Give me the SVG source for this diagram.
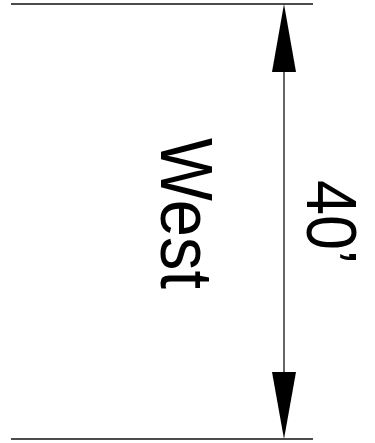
<svg xmlns="http://www.w3.org/2000/svg" width="375" height="443" viewBox="0 0 375 443">
<style>
.ext{stroke:#111;stroke-width:1.5;fill:none}
.dim{stroke:#000;stroke-width:1.2;fill:none}
.head{fill:#000}
.lbl{font-family:"Liberation Sans",Arial,sans-serif;fill:#000}
</style>
<rect width="375" height="443" fill="#fff"/>
<g id="connectors">
<line class="ext" x1="11" y1="4" x2="313" y2="4"/>
<line class="ext" x1="11" y1="439" x2="313" y2="439"/>
<line class="dim" x1="284" y1="70" x2="284" y2="374"/>
<polygon class="head" points="284,4 272,72 296,72"/>
<polygon class="head" points="284,439 272,372 296,372"/>
</g>
<g id="west">
<text class="lbl" font-size="74" transform="translate(161,138) rotate(90)" textLength="151" lengthAdjust="spacingAndGlyphs">West</text>
</g>
<g id="dimension">
<text class="lbl" font-size="70" transform="translate(307,180) rotate(90)" textLength="84" lengthAdjust="spacingAndGlyphs">40’</text>
</g>
</svg>
